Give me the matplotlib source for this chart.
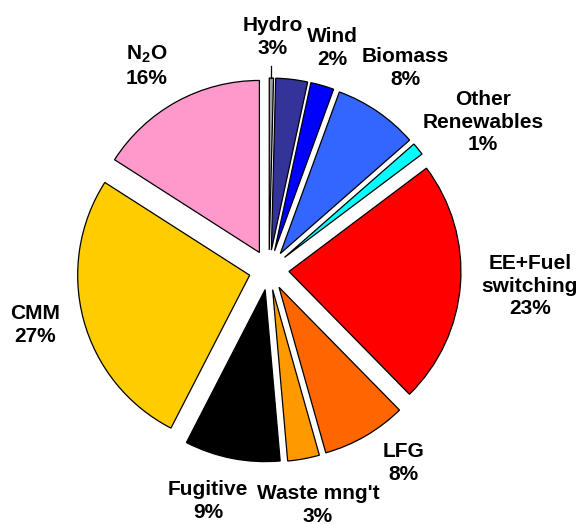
import matplotlib.pyplot as plt
import numpy as np

# ---- data ----
sectors = ['', 'Hydro', 'Wind', 'Biomass', 'Other\nRenewables', 'EE+Fuel\nswitching',
           'LFG', "Waste mng't", 'Fugitive', 'CMM', 'N$_\\mathregular{2}$O']
shares = [0.4, 3.0, 2.2, 8.0, 1.2, 23.0, 8.0, 3.0, 9.0, 26.6, 16.0]
pct_labels = ['', '3%', '2%', '8%', '1%', '23%', '8%', '3%', '9%', '27%', '16%']
colors = ['#A0A0A0', '#333399', '#0000FF', '#3366FF', '#00FFFF', '#FF0000',
          '#FF6600', '#FF9900', '#000000', '#FFCC00', '#FF99CC']

# ---- layout (pixel space, y up) ----
W, H = 578, 524
center = (269, 254)
radius = 172
gap = 20
label_pos = [None, (273, 487), (332, 476), (405, 456), (483, 402), (530, 238),
             (403, 61), (318, 19), (208, 23), (35, 199), (147, 458)]

plt.rcParams['font.family'] = ['Liberation Sans', 'DejaVu Sans']
plt.rcParams['font.weight'] = 'bold'

fig = plt.figure(figsize=(W / 100, H / 100), dpi=100)
ax = fig.add_axes([0, 0, 1, 1])

wedges, _ = ax.pie(shares, colors=colors, startangle=90, counterclock=False,
                   center=center, radius=radius, explode=[gap] * len(shares),
                   wedgeprops=dict(edgecolor='black', linewidth=0.9),
                   normalize=True, frame=True)
ax.set_xlim(0, W)
ax.set_ylim(0, H)
ax.axis('off')

for name, pct, pos in zip(sectors, pct_labels, label_pos):
    if pos is None:
        continue
    ax.text(pos[0], pos[1], name + '\n' + pct, ha='center', va='center',
            fontsize=15, fontweight='bold', linespacing=1.25)

# leader line from the Hydro label to the thin top slice
w0 = wedges[0]
th = np.deg2rad((w0.theta1 + w0.theta2) / 2)
tip = (w0.center[0] + w0.r * np.cos(th), w0.center[1] + w0.r * np.sin(th))
ax.plot([tip[0], tip[0]], [tip[1], tip[1] + 12], color='black', lw=0.9)

fig.savefig('out.png', dpi=100)
